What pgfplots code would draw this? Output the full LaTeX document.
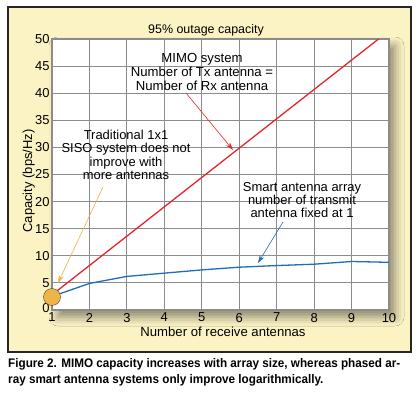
\documentclass[border=0pt]{standalone}
\usepackage{pgfplots}
\pgfplotsset{compat=1.18}
\usepackage{fontspec}
\setmainfont{Liberation Sans}
\newfontfamily\capfont[FakeStretch=0.94]{Liberation Sans}
\usetikzlibrary{arrows.meta,shadows.blur}
\definecolor{boxfill}{HTML}{FCF3C5}
\definecolor{mred}{HTML}{E8242C}
\definecolor{mblue}{HTML}{1E6EC0}
\definecolor{morange}{HTML}{EBB548}
\definecolor{gridgray}{HTML}{8C8C8C}
\begin{document}
\begin{tikzpicture}
\begin{scope}[x=1bp,y=1bp]
\path[use as bounding box] (0,0) rectangle (420,-397);
\fill[boxfill, draw=black!85, line width=1.2bp] (8,-7) rectangle (411,-352);
\fill[white, blur shadow={shadow xshift=6bp, shadow yshift=-7bp, shadow blur radius=9bp, shadow opacity=45}] (52,-39) rectangle (389,-310);
\end{scope}
\begin{axis}[
  at={(52bp,-310bp)}, anchor=south west,
  scale only axis, width=337bp, height=271bp,
  xmin=1, xmax=10, ymin=0, ymax=50,
  xtick={1,...,10}, ytick={0,5,...,50},
  yticklabels={\raisebox{4bp}{0},5,10,15,20,25,30,35,40,45,50},
  grid=major,
  grid style={gridgray, line width=1.1bp},
  axis line style={gridgray, line width=1.1bp},
  major tick length=0pt,
  axis background/.style={fill=white},
  tick label style={font=\fontsize{13}{15}\selectfont, inner sep=0.5bp},
  /pgf/number format/assume math mode=true,
  xticklabel style={yshift=-2.3bp},
  yticklabel style={xshift=-1.8bp},
  clip=false,
]
\addplot[mred, line width=1.3bp] coordinates {(1,2.8) (9.72,50)};
\addplot[mblue, line width=1.3bp] coordinates {(1,2.5) (2,4.9) (3,6.2) (4,6.8) (5,7.4) (6,7.9) (7,8.2) (8,8.45) (9,8.95) (10,8.8)};
\addplot[only marks, mark=*, mark size=8.5bp, mark options={fill=morange, draw=black!50!brown, line width=0.4bp}] coordinates {(1,2.4)};
\end{axis}
\begin{scope}[x=1bp,y=1bp]
% annotations
\node[font=\fontsize{13.2}{13.9}\selectfont, align=center] at (202,-72) {MIMO system\\Number of Tx antenna =\\Number of Rx antenna};
\node[font=\fontsize{13}{13.4}\selectfont, align=center] at (126,-155) {Traditional 1x1\\SISO system does not\\improve with\\more antennas};
\node[font=\fontsize{13}{12.8}\selectfont, align=center] at (302,-200) {Smart antenna array\\number of transmit\\antenna fixed at 1};
\draw[mred, line width=0.6bp, -{Stealth[length=8bp,width=5bp]}] (186,-93) -- (233,-150);
\draw[morange, line width=0.6bp, -{Stealth[length=8bp,width=5bp]}] (103,-187) -- (58,-283);
\draw[mblue, line width=0.6bp, -{Stealth[length=8bp,width=5bp]}] (283,-222) -- (258,-263);
% titles and labels
\node[font=\fontsize{12.5}{14}\selectfont, anchor=base] at (206,-33) {95\% outage capacity};
\node[font=\fontsize{13.2}{15}\selectfont, anchor=base] at (223,-336) {Number of receive antennas};
\node[font=\fontsize{13}{15}\selectfont, anchor=base, rotate=90] at (32,-181) {Capacity (bps/Hz)};
% caption
\node[font=\capfont\bfseries\fontsize{12.5}{14}\selectfont, anchor=base west, inner sep=0pt] at (8,-367) {Figure 2. MIMO capacity increases with array size, whereas phased ar-};
\node[font=\capfont\bfseries\fontsize{12.5}{14}\selectfont, anchor=base west, inner sep=0pt] at (8,-383) {ray smart antenna systems only improve logarithmically.};
\end{scope}
\end{tikzpicture}
\end{document}
